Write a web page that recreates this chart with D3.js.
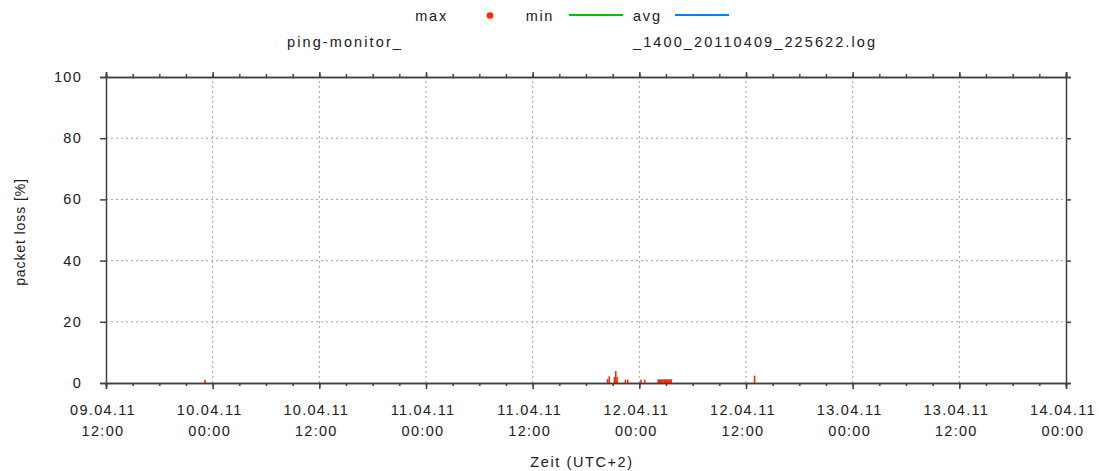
<!DOCTYPE html>
<html>
<head>
<meta charset="utf-8">
<script src="https://cdn.jsdelivr.net/npm/d3@7"></script>
<style>
  html, body { margin: 0; padding: 0; background: #fff; }
  svg { display: block; }
  text { font-family: "Liberation Sans", Arial, sans-serif; fill: #202020; }
</style>
</head>
<body>
<svg id="chart" width="1099" height="471"></svg>
<script>
// ---- data ----
const timeDomain = ["2011-04-09 12:00", "2011-04-14 00:00"];
const yDomain = [0, 100];
const yTicks = [0, 20, 40, 60, 80, 100];
const legendLabels = ["max", "min", "avg"];
const titleLeft = "ping-monitor_";
const titleRight = "_1400_20110409_225622.log";
const xLabel = "Zeit (UTC+2)";
const yLabel = "packet loss [%]";

const lossTimes = [
  "2011-04-09 23:08",
  "2011-04-11 20:26", "2011-04-11 20:37",
  "2011-04-11 21:12", "2011-04-11 21:21", "2011-04-11 21:30",
  "2011-04-11 22:26", "2011-04-11 22:42",
  "2011-04-12 00:11", "2011-04-12 00:36",
  "2011-04-12 02:08", "2011-04-12 02:16", "2011-04-12 02:24", "2011-04-12 02:32",
  "2011-04-12 02:40", "2011-04-12 02:48", "2011-04-12 02:56", "2011-04-12 03:04",
  "2011-04-12 03:12", "2011-04-12 03:20", "2011-04-12 03:28", "2011-04-12 03:36",
  "2011-04-12 12:58"
];
const lossValues = [
  1.0,
  1.3, 2.2,
  2.0, 3.9, 2.0,
  1.1, 1.1,
  1.1, 1.1,
  1.2, 1.2, 1.2, 1.2,
  1.2, 1.2, 1.2, 1.2,
  1.2, 1.2, 1.2, 1.2,
  2.4
];

// ---- layout ----
const svg = d3.select("#chart");
const L = 106, R = 1066, T = 77, B = 383;
const parse = d3.utcParse("%Y-%m-%d %H:%M");
const x = d3.scaleUtc().domain(timeDomain.map(parse)).range([L, R]);
const y = d3.scaleLinear().domain(yDomain).range([B, T]);
const axisColor = "#404040";
const fontSize = 14.5;
const ls = "1.3px";
const titleLs = "2.1px";

const majorX = d3.utcHour.every(12).range(x.domain()[0], d3.utcMinute.offset(x.domain()[1], 1));
const minorX = d3.utcHour.every(3).range(x.domain()[0], d3.utcMinute.offset(x.domain()[1], 1));

// grid
const grid = svg.append("g").attr("stroke", "#a0a0a0").attr("stroke-width", 1).attr("stroke-dasharray", "2,3");
majorX.slice(1, -1).forEach(d => {
  grid.append("line").attr("x1", x(d)).attr("x2", x(d)).attr("y1", B).attr("y2", T);
});
yTicks.slice(1, -1).forEach(v => {
  grid.append("line").attr("x1", L).attr("x2", R).attr("y1", y(v)).attr("y2", y(v));
});

// data bars
const data = lossTimes.map((t, i) => ({ t: parse(t), v: lossValues[i] }));
svg.append("g").selectAll("rect").data(data).join("rect")
  .attr("x", d => x(d.t) - 0.8)
  .attr("width", 1.6)
  .attr("y", d => y(d.v))
  .attr("height", d => y(0) - y(d.v))
  .attr("fill", "#ff2a00");

// axes via d3
const bottomAxis = d3.axisBottom(x).tickValues(majorX).tickSize(6).tickFormat("");
const bottomMinor = d3.axisBottom(x).tickValues(minorX).tickSize(3).tickFormat("");
const topAxis = d3.axisTop(x).tickValues(majorX).tickSize(5).tickFormat("");
const topMinor = d3.axisTop(x).tickValues(minorX).tickSize(3).tickFormat("");
const leftAxis = d3.axisLeft(y).tickValues(yTicks).tickSize(6).tickFormat("");
const rightAxis = d3.axisRight(y).tickValues(yTicks).tickSize(5).tickFormat("");

function styleAxis(g) {
  g.selectAll("path").attr("stroke", axisColor).attr("stroke-width", 1.5);
  g.selectAll("line").attr("stroke", axisColor).attr("stroke-width", 1.5);
}
svg.append("g").attr("transform", `translate(0,${B})`).call(bottomMinor).call(styleAxis);
svg.append("g").attr("transform", `translate(0,${B})`).call(bottomAxis).call(styleAxis);
svg.append("g").attr("transform", `translate(0,${T})`).call(topMinor).call(styleAxis);
svg.append("g").attr("transform", `translate(0,${T})`).call(topAxis).call(styleAxis);
svg.append("g").attr("transform", `translate(${L},0)`).call(leftAxis).call(styleAxis);
svg.append("g").attr("transform", `translate(${R},0)`).call(rightAxis).call(styleAxis);

// y tick labels
const fmtD = d3.utcFormat("%d.%m.%y"), fmtH = d3.utcFormat("%H:%M");
svg.append("g").selectAll("text").data(yTicks).join("text")
  .attr("x", 82).attr("y", d => y(d) + 5)
  .attr("text-anchor", "end")
  .style("font-size", fontSize + "px").style("letter-spacing", ls)
  .text(d => d);

// x tick labels
const xl = svg.append("g").selectAll("g").data(majorX).join("g");
xl.append("text").attr("x", d => x(d) - 3).attr("y", 415)
  .attr("text-anchor", "middle").style("font-size", fontSize + "px").style("letter-spacing", ls)
  .text(d => fmtD(d));
xl.append("text").attr("x", d => x(d) - 3).attr("y", 436)
  .attr("text-anchor", "middle").style("font-size", fontSize + "px").style("letter-spacing", ls)
  .text(d => fmtH(d));

// axis labels
svg.append("text").attr("x", 582).attr("y", 467).attr("text-anchor", "middle")
  .style("font-size", fontSize + "px").style("letter-spacing", "1.6px").text(xLabel);
svg.append("text").attr("transform", "translate(25,232) rotate(-90)").attr("text-anchor", "middle")
  .style("font-size", "14px").style("letter-spacing", "0.9px").text(yLabel);

// title
svg.append("text").attr("x", 403).attr("y", 47).attr("text-anchor", "end")
  .style("font-size", fontSize + "px").style("letter-spacing", titleLs).text(titleLeft);
svg.append("text").attr("x", 633).attr("y", 47).attr("text-anchor", "start")
  .style("font-size", fontSize + "px").style("letter-spacing", titleLs).text(titleRight);

// legend
const leg = svg.append("g");
leg.append("text").attr("x", 448).attr("y", 20.5).attr("text-anchor", "end")
  .style("font-size", fontSize + "px").style("letter-spacing", "1.8px").text(legendLabels[0]);
leg.append("circle").attr("cx", 490).attr("cy", 15.5).attr("r", 3.3).attr("fill", "#ff2a00");
leg.append("text").attr("x", 554).attr("y", 20.5).attr("text-anchor", "end")
  .style("font-size", fontSize + "px").style("letter-spacing", "1.6px").text(legendLabels[1]);
leg.append("line").attr("x1", 569).attr("x2", 623).attr("y1", 15).attr("y2", 15)
  .attr("stroke", "#00c000").attr("stroke-width", 2);
leg.append("text").attr("x", 633).attr("y", 20.5).attr("text-anchor", "start")
  .style("font-size", fontSize + "px").style("letter-spacing", "1.8px").text(legendLabels[2]);
leg.append("line").attr("x1", 675).attr("x2", 729).attr("y1", 15).attr("y2", 15)
  .attr("stroke", "#0080ff").attr("stroke-width", 2);
</script>
</body>
</html>
